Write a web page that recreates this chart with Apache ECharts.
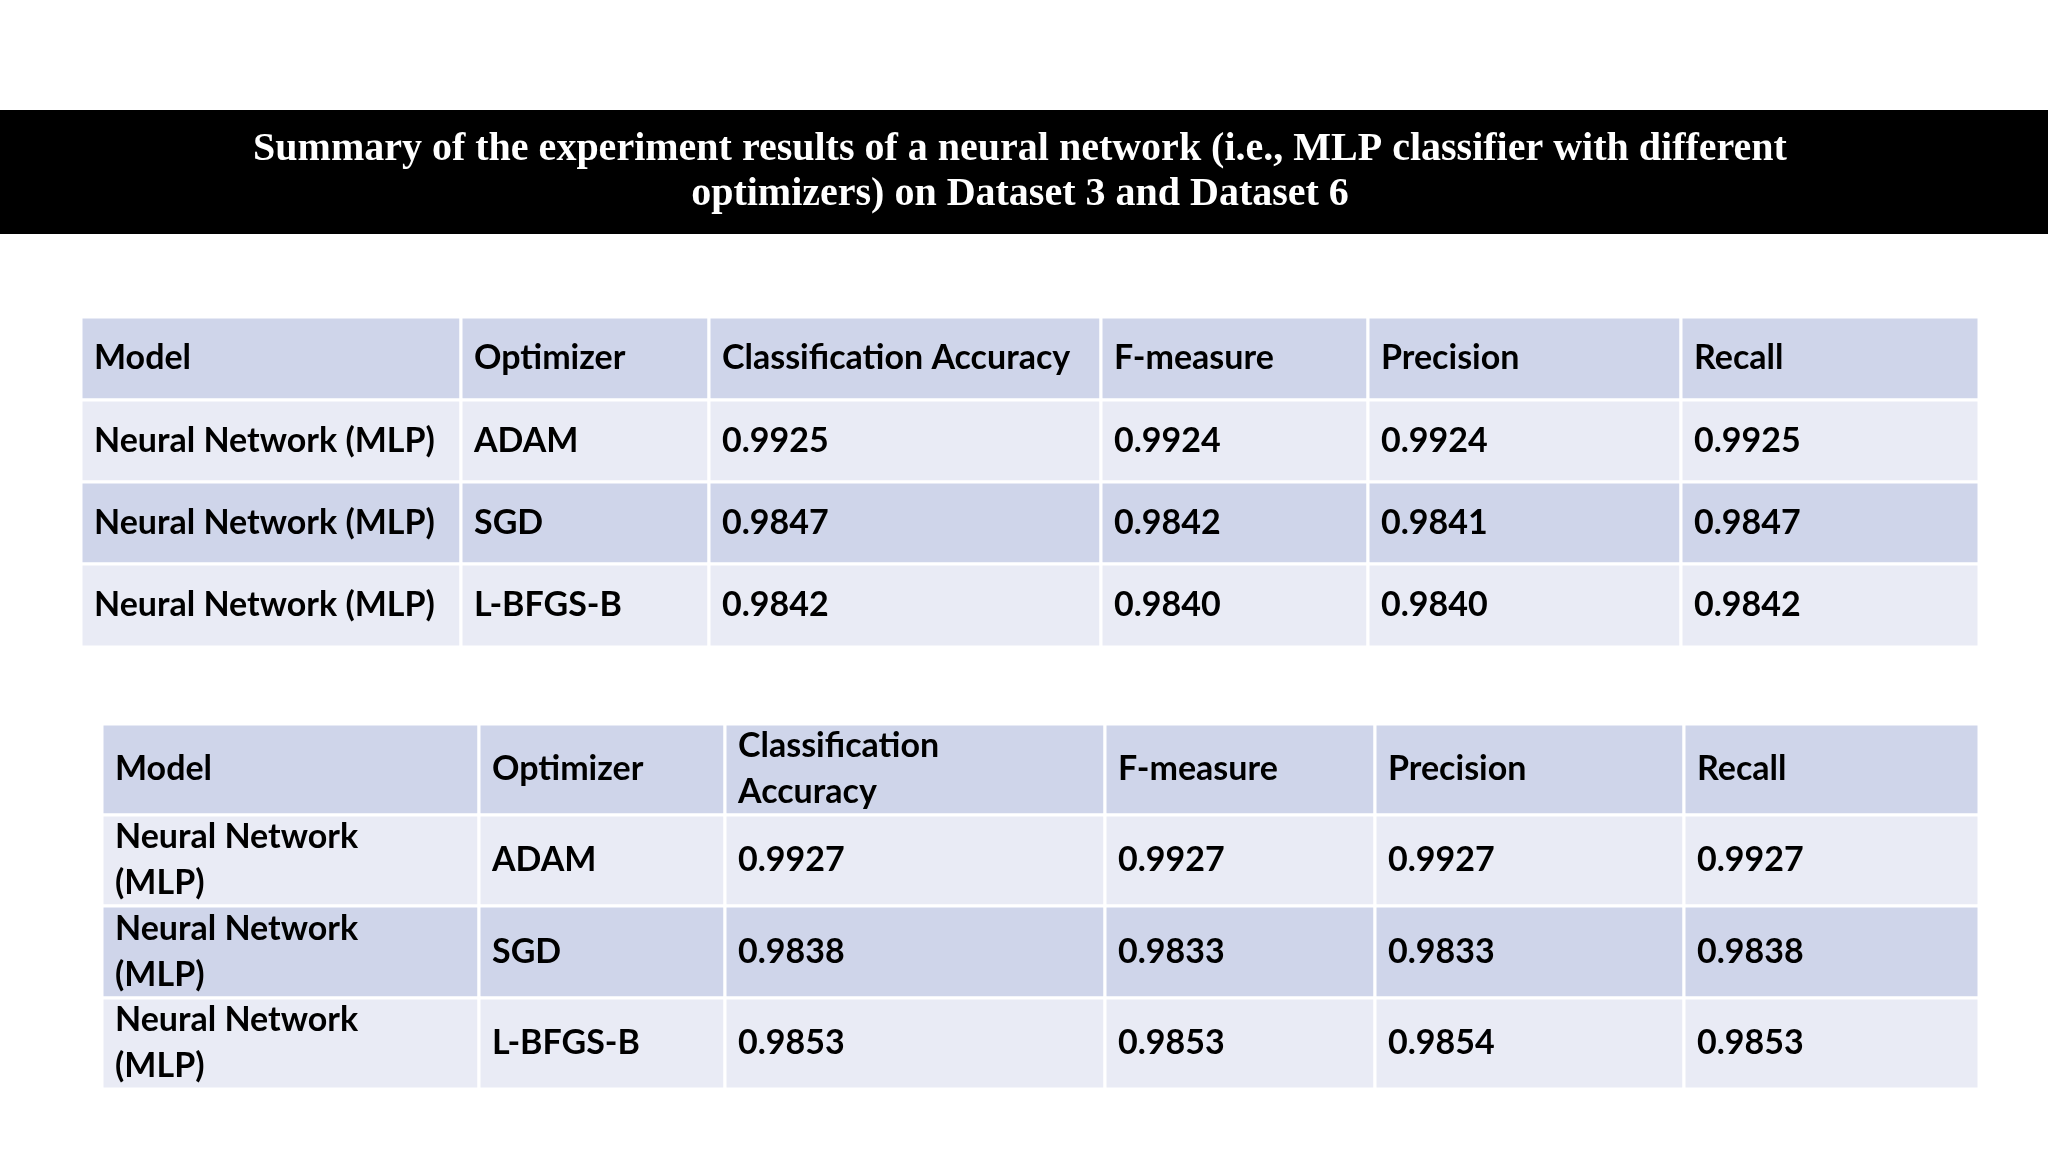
<!DOCTYPE html>
<html>
<head>
<meta charset="utf-8">
<script src="https://cdn.jsdelivr.net/npm/echarts@6/dist/echarts.min.js"></script>
<style>
html,body{margin:0;padding:0;background:#fff;}
#main{width:2048px;height:1152px;}
</style>
</head>
<body>
<div id="main"></div>
<script>
// data
var titleLines = ['Summary of the experiment results of a neural network (i.e., MLP classifier with different',
                  'optimizers) on Dataset 3 and Dataset 6'];
var headers1 = ['Model', 'Optimizer', 'Classification Accuracy', 'F-measure', 'Precision', 'Recall'];
var headers2 = ['Model', 'Optimizer', 'Classification\nAccuracy', 'F-measure', 'Precision', 'Recall'];
var models1 = ['Neural Network (MLP)', 'Neural Network (MLP)', 'Neural Network (MLP)'];
var models2 = ['Neural Network\n(MLP)', 'Neural Network\n(MLP)', 'Neural Network\n(MLP)'];
var optimizers = ['ADAM', 'SGD', 'L-BFGS-B'];
var accuracy3 = ['0.9925', '0.9847', '0.9842'];
var fmeasure3 = ['0.9924', '0.9842', '0.9840'];
var precision3 = ['0.9924', '0.9841', '0.9840'];
var recall3 = ['0.9925', '0.9847', '0.9842'];
var accuracy6 = ['0.9927', '0.9838', '0.9853'];
var fmeasure6 = ['0.9927', '0.9833', '0.9833'.replace('0.9833','0.9853')];
var precision6 = ['0.9927', '0.9833', '0.9854'];
var recall6 = ['0.9927', '0.9838', '0.9853'];
fmeasure6 = ['0.9927', '0.9833', '0.9853'];

// layout
var font = 'Lato, "Open Sans", sans-serif';
var elements = [];

elements.push({type: 'rect', shape: {x: 0, y: 110, width: 2048, height: 124}, style: {fill: '#000'}});
titleLines.forEach(function (t, i) {
  elements.push({type: 'text', x: 1020, y: 150 + i * 45, style: {
    text: t, fill: '#fff', font: 'bold 40px "Liberation Serif", serif', align: 'center', verticalAlign: 'middle'}});
});

function table(cols, rows, head, body) {
  var all = [head].concat(body);
  all.forEach(function (row, r) {
    row.forEach(function (cell, c) {
      var x0 = cols[c], x1 = cols[c + 1], y0 = rows[r], y1 = rows[r + 1];
      elements.push({type: 'rect', shape: {x: x0, y: y0, width: x1 - x0, height: y1 - y0},
        style: {fill: (r % 2 === 0) ? '#CFD5EA' : '#E9EBF5', stroke: '#fff', lineWidth: 3}});
      elements.push({type: 'text', x: x0 + 13, y: (y0 + y1) / 2, style: {
        text: cell, fill: '#000', font: 'bold 34px ' + font, verticalAlign: 'middle', lineHeight: 46}});
    });
  });
}

function rowsOf(m, a, f, p, rc) {
  return m.map(function (_, i) { return [m[i], optimizers[i], a[i], f[i], p[i], rc[i]]; });
}

table([81, 461, 709, 1101, 1368, 1681, 1979], [317, 400, 482, 564, 647],
      headers1, rowsOf(models1, accuracy3, fmeasure3, precision3, recall3));
table([102, 479, 725, 1105, 1375, 1684, 1979], [724, 815, 906, 998, 1089],
      headers2, rowsOf(models2, accuracy6, fmeasure6, precision6, recall6));

var chart = echarts.init(document.getElementById('main'));
chart.setOption({backgroundColor: '#fff', graphic: {elements: elements}});
</script>
</body>
</html>
